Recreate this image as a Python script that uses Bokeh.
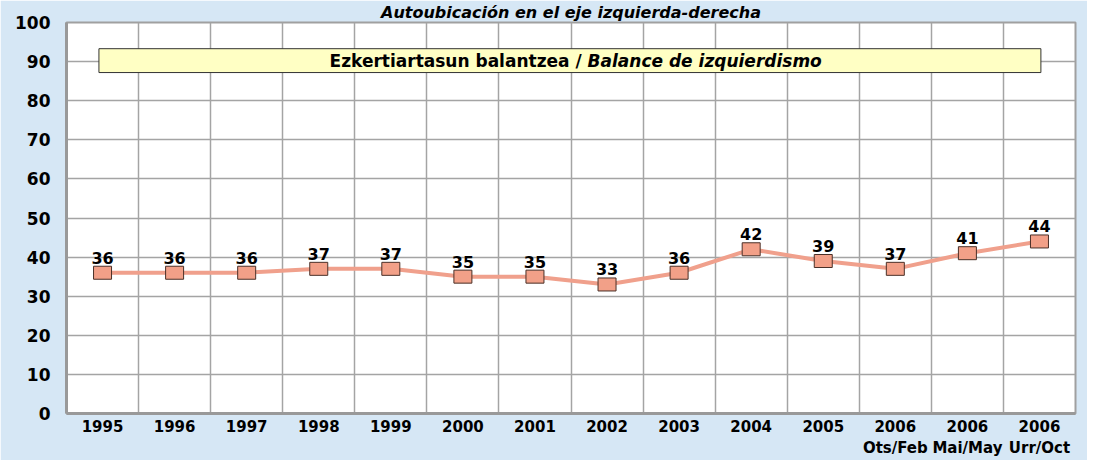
from bokeh.plotting import figure
from bokeh.models import FixedTicker, BoxAnnotation, Label, ColumnDataSource, Range1d
from bokeh.embed import file_html
from bokeh.resources import INLINE
from bokeh.core.properties import value

# ---- data ----
categories = ["1995", "1996", "1997", "1998", "1999", "2000", "2001", "2002",
              "2003", "2004", "2005", "2006\nOts/Feb", "2006\nMai/May", "2006\nUrr/Oct"]
values = [36, 36, 36, 37, 37, 35, 35, 33, 36, 42, 39, 37, 41, 44]
y_ticks = [0, 10, 20, 30, 40, 50, 60, 70, 80, 90, 100]
title_text = "Autoubicación en el eje izquierda-derecha"
box_text_1 = "Ezkertiartasun balantzea / "
box_text_2 = "Balance de izquierdismo"

FONT = "DejaVu Sans"
BG = "#d6e7f5"
GRID = "#a4a4a4"

xs = list(range(len(categories)))
src = ColumnDataSource(dict(x=xs, y=values, lbl=[str(v) for v in values]))

p = figure(width=1087, height=460, output_backend="svg", toolbar_location=None,
           x_range=Range1d(-0.5, len(categories) - 0.5), y_range=Range1d(0, 100),
           min_border_left=66, min_border_right=12, min_border_top=0, min_border_bottom=36,
           background_fill_color="white", border_fill_color=BG)

# title
p.title.text = title_text
p.title.align = "center"
p.title.offset = 14
p.title.standoff = 1
p.title.text_font = FONT
p.title.text_font_style = "bold italic"
p.title.text_font_size = "16px"
p.title.text_color = "black"

p.outline_line_color = "#a0a0a0"
p.outline_line_width = 2

# axes
p.xaxis.ticker = FixedTicker(ticks=xs)
p.xaxis.major_label_overrides = {i: c for i, c in enumerate(categories)}
p.yaxis.ticker = FixedTicker(ticks=y_ticks)
for ax in (p.xaxis, p.yaxis):
    ax.axis_line_color = "#999999"
    ax.axis_line_width = 3
    ax.major_tick_line_color = None
    ax.minor_tick_line_color = None
    ax.major_tick_out = 0
    ax.major_tick_in = 0
    ax.minor_tick_out = 0
    ax.minor_tick_in = 0
    ax.major_label_text_font = FONT
    ax.major_label_text_font_style = "bold"
    ax.major_label_text_color = "black"
p.xaxis.major_label_text_font_size = "15px"
p.xaxis.major_label_standoff = 4
p.yaxis.major_label_text_font_size = "17px"
p.yaxis.major_label_standoff = 16

# grid
p.xgrid.ticker = FixedTicker(ticks=[i + 0.5 for i in xs[:-1]])
p.ygrid.ticker = FixedTicker(ticks=y_ticks[1:-1])
for g in (p.xgrid, p.ygrid):
    g.grid_line_color = GRID
    g.grid_line_width = 1.5

# legend-like box
box = BoxAnnotation(left=-0.05, right=13.02, bottom=87.2, top=93.3,
                    fill_color="#ffffc4", fill_alpha=1.0,
                    line_color="#333333", line_width=1, line_alpha=1.0)
p.add_layout(box)
p.add_layout(Label(x=6.73, y=90.25, text=box_text_1, text_align="right", text_baseline="middle",
                   text_font=FONT, text_font_style="bold", text_font_size="17px", text_color="black"))
p.add_layout(Label(x=6.73, y=90.25, text=box_text_2, text_align="left", text_baseline="middle",
                   text_font=FONT, text_font_style="bold italic", text_font_size="17px", text_color="black"))

# series
p.line("x", "y", source=src, line_color="#f0a08c", line_width=4)
p.rect("x", "y", width=18, height=13, width_units="screen", height_units="screen",
       fill_color="#f2a088", line_color="#4a3028", line_width=1, source=src)
p.text("x", "y", text="lbl", source=src, text_align="center", text_baseline="bottom",
       y_offset=-9, text_font=value(FONT), text_font_style="bold", text_font_size="16px",
       text_color="black")

open("out.html", "w").write(file_html(p, INLINE))
